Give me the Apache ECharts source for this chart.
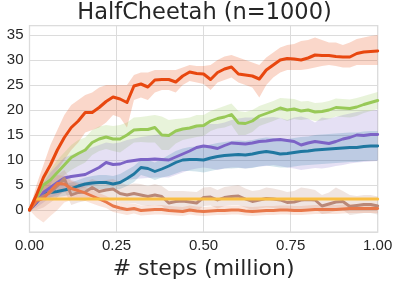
<!DOCTYPE html>
<html>
<head>
<meta charset="utf-8">
<script src="https://cdn.jsdelivr.net/npm/echarts@6/dist/echarts.min.js"></script>
<style>
html,body{margin:0;padding:0;background:#fff;}
#chart{width:399px;height:286px;}
</style>
</head>
<body>
<div id="chart"></div>
<script>
// x positions (million steps)
var xs = [0,0.02,0.04,0.06,0.08,0.10,0.12,0.14,0.16,0.18,0.20,0.22,0.24,0.26,0.28,0.30,0.32,0.34,0.36,0.38,0.40,0.42,0.44,0.46,0.48,0.50,0.52,0.54,0.56,0.58,0.60,0.62,0.64,0.66,0.68,0.70,0.72,0.74,0.76,0.78,0.80,0.82,0.84,0.86,0.88,0.90,0.92,0.94,0.96,0.98,1.00];
var xTicks = [0, 0.25, 0.5, 0.75, 1.0];
var yTicks = [0, 5, 10, 15, 20, 25, 30, 35];

// red series
var redMean = [0,3,6.5,9,12,14.5,16.5,17.8,19.5,19.5,20.5,21.7,22.6,22.2,21.5,24.8,25.2,24.6,26,26.1,26.1,25.6,26.8,27.6,27.3,27.2,26.1,27.5,28.2,28.6,27.2,27,26.8,26.2,28,29,30,30.3,30.2,30,30.4,31,30.9,30.9,30.7,30.6,30.6,31.3,31.6,31.7,31.8];
var redHi = [0,5,9,13,16,19,21,22,23,23.5,24.5,25,25,25,25,27,27.5,27.5,28,28,28,28,28.5,29,28.8,28.8,29,30,30.7,31,30.5,30,29.5,29,30.5,31.5,32.5,33,33.2,33.8,34,34.5,34,33.5,33.5,33,33.5,34.2,34.5,34.8,35];
var redLo = [0,1,3,5,8,10,12,13.5,15.5,16,16.5,17.5,19,18.5,16.5,22,22.5,22,23.5,24,24,23.5,25,25.8,25.5,25.2,24,25.5,26,26.5,25.5,25,24.5,22.5,25,26.5,27.5,28,28,28,28.2,28.5,28.8,29,28.8,28.5,28.5,29,29,29,29];

// green series
var greenMean = [0,2.5,5,6,7.5,9,10.5,11.3,12,13.5,14.2,14.6,14.2,14.2,15,16,16.1,16.1,16.5,15,14.9,15.8,16.2,16.4,16.8,16.9,17.8,18.3,18.6,19.1,17.4,17.3,17.8,18.8,19.3,19.8,20.4,20,20.2,19.8,20,19.6,19.7,20,20.5,20.4,20.3,20.6,21.1,21.5,21.9];
var greenHi = [0,3.5,6.5,8,10,11.5,13,14,14.5,16,16.7,17,16.8,17,17.5,18.5,18.6,18.8,19,18.7,18,18.2,18.3,18.5,19,19,19.8,20.3,20.8,21.3,19.8,19.6,20,20.8,21.3,21.8,22.4,22.3,22.2,21.7,21.8,21.4,21.5,21.8,22.3,22.2,22.1,22.4,22.8,23.2,23.6];
var greenLo = [0,1.5,3.5,4,5.5,7,8,8.8,9.5,11,11.8,12.2,11.8,11.5,12.5,13.5,13.6,13.5,13.5,12,12,13.3,14,14.3,14.6,14.8,15.8,16.3,16.5,17,15,15,15.6,16.8,17.3,17.8,18.4,17.8,18.2,18,18.2,17.8,17.9,18.2,18.7,18.6,18.5,18.8,19.4,19.8,20.2];

// purple series
var purpleMean = [0,1.5,3.5,4.5,5.5,6.4,6.7,6.9,7.1,7.8,8.5,9.5,9.1,9.2,9.7,9.9,10.1,10.1,10.2,10.1,10,10.6,11.2,11.8,12.5,12.8,12.6,12.3,12.9,13.4,13.3,13.2,13.4,13.7,13.8,14,14.1,13.9,13.7,13,13.4,13.7,13.5,13.3,13.7,14.2,14.5,15,14.9,15.1,15.1];
var purpleHi = [0,2.5,5.5,7.5,9,10.5,11,11.5,12,12.5,13,13.5,13.3,13.5,14,14.3,14.6,14.8,15,15.2,15.2,15.5,16,16.5,16.8,17,17.2,17.2,17.5,18,18.3,18.5,18.5,18.3,18.5,18.6,18.4,18,18.5,18.7,18.3,17.5,18.5,18.3,18.6,19,19.3,19.6,19.8,19.8,20];
var purpleLo = [0,0.5,1.5,2.5,3,3.5,4,4.2,4.5,5,5.5,5.8,5.6,5.8,6,6.2,6.3,6.4,6.5,6.5,6.5,7,7.5,8,8.3,8.5,8.3,8,8.3,8.5,8.5,8.3,8.5,8.7,8.8,9,8.8,8.5,8.3,8,8.2,8.4,8.3,8.5,8.8,9,9.3,9.5,9.6,9.7,9.8];

// blue series
var blueMean = [0,1.5,3.2,3.5,3.7,4,4.3,4.8,5.2,5.4,5.5,5.5,5.2,5.5,6.3,7.2,8.5,8.3,7.7,8.2,8.8,9.5,10,10.1,10.1,10,10.4,10.7,10.9,11,11.1,11,11.2,11.5,11.7,11.5,11.2,11.3,11.5,11.7,11.8,12,12.1,12.2,12.3,12.4,12.5,12.5,12.7,12.8,12.8];
var blueHi = [0,2,4,4.5,4.8,5.2,5.5,6,6.5,6.8,7,7,6.8,7.2,8,8.8,10,10,9.5,10.2,11,11.8,12.3,12.6,12.7,12.7,13.1,13.4,13.6,13.8,13.9,13.8,14,14.3,14.5,14.4,14.1,14.2,14.4,14.6,14.7,15,15.1,15.2,15.3,15.4,15.5,15.5,15.7,15.8,15.8];
var blueLo = [0,1,2.4,2.5,2.6,2.8,3.1,3.6,4,4.1,4.2,4.2,4,4.2,4.8,5.6,7,6.6,6,6.5,6.8,7.3,7.8,7.8,7.7,7.5,7.8,8.1,8.3,8.3,8.4,8.3,8.4,8.7,8.9,8.7,8.5,8.5,8.7,8.9,9,9.1,9.2,9.3,9.4,9.5,9.6,9.6,9.8,9.9,9.9];

// brown series
var brownMean = [0,2,2.8,3.5,4.8,6.3,3,3.5,3.6,4.5,3.7,4,4.2,3.3,3,3.3,3,2.7,3,2.7,1.4,1.7,1.8,1.6,1.4,2.5,2.6,2,2.5,2.7,2.8,2.2,1.7,2,2.3,2.2,2,1.5,1.6,2,2.1,2,0.8,1.2,1.6,1.7,0.7,0.9,1.1,1.1,0.8];
var brownHi = [0,4,5,5.5,7,8,6,5.5,5.5,6.2,5.7,6,6.2,5.5,5,5.3,5.2,4.8,5.2,4.8,3.8,3.8,3.8,3.7,3.6,4.5,4.6,4,4.6,4.8,5,4.3,3.8,4,4.5,4.3,4,3.6,3.8,4.5,4.3,4,3,3.5,4.5,3.8,3,2.8,3,3,2.7];
var brownLo = [0,0,0.5,1.5,2.5,4,1,1.5,1.8,2.7,2,2.2,2.3,1.5,1.2,1.4,1,0.8,1,0.8,-0.3,0,0,-0.2,-0.3,0.8,0.9,0.3,0.8,1,1,0.5,0,0.3,0.5,0.4,0.2,-0.2,-0.1,0.2,0.3,0.2,-0.8,-0.6,-0.2,0,-1,-0.8,-0.6,-0.6,-0.9];

// orange series
var orangeMean = [0,1.8,2.3,3.8,5.3,5.2,4.3,3.9,3.4,2.8,2.2,1.6,0.8,0.4,0.1,0.3,-0.1,0,0.1,0.1,-0.1,-0.2,-0.3,0,-0.2,-0.3,-0.2,-0.1,-0.1,0,0,-0.2,-0.3,-0.2,-0.1,-0.1,0,0,-0.1,-0.1,0,0.1,0.1,0.1,0.1,0.2,0.3,0.3,0.3,0.3,0.3];
var orangeHi = [0,3.5,5,6,7,6.8,5.8,5.2,4.6,4,3.4,2.8,2,1.5,1.2,1.3,0.9,0.9,1,1,0.8,0.7,0.6,0.9,0.7,0.6,0.7,0.8,0.8,0.9,0.9,0.7,0.6,0.7,0.8,0.8,0.9,0.9,0.8,0.8,0.9,1,1,1,1,1.1,1.2,1.2,1.2,1.2,1.2];
var orangeLo = [0,-1.5,-2.5,-1.2,0,1.5,2,2,1.8,1.3,0.8,0.4,-0.4,-0.7,-1,-0.7,-1.1,-1,-0.9,-0.9,-1,-1.1,-1.2,-0.9,-1.1,-1.2,-1.1,-1,-1,-0.9,-0.9,-1.1,-1.2,-1.1,-1,-1,-0.9,-0.9,-1,-1,-0.9,-0.8,-0.8,-0.8,-0.8,-0.7,-0.6,-0.6,-0.6,-0.6,-0.6];

// yellow (constant baseline)
var yellowX = [0.02, 1.0];
var yellowY = [2.2, 2.2];

var FONT = "'Liberation Sans', Arial, Helvetica, sans-serif";
var BIG = "'DejaVu Sans', sans-serif";
var TXT = '#262626';

function pairs(x, y) { return x.map(function (v, i) { return [v, y[i]]; }); }

function band(name, hi, lo, color) {
  return {
    type: 'custom', name: name + ' band', silent: true, clip: true, z: 1,
    data: [[0, 0]],
    encode: { x: 0, y: 1 },
    renderItem: function (params, api) {
      var pts = [];
      for (var i = 0; i < xs.length; i++) pts.push(api.coord([xs[i], hi[i]]));
      for (var j = xs.length - 1; j >= 0; j--) pts.push(api.coord([xs[j], lo[j]]));
      return { type: 'polygon', shape: { points: pts }, style: { fill: color } };
    }
  };
}

function line(name, x, y, color, z, w) {
  return {
    type: 'line', name: name, data: pairs(x, y), showSymbol: false, symbol: 'none',
    silent: true, animation: false, z: z,
    lineStyle: { color: color, width: w || 2.9, join: 'round', cap: 'round' }
  };
}

var C = {
  red: '#e8470f', green: '#98c957', purple: '#7c63c6', blue: '#1f77a0',
  brown: '#b98878', orange: '#e8784a', yellow: '#f9bf45'
};

var chart = echarts.init(document.getElementById('chart'), null, { renderer: 'canvas' });
chart.setOption({
  animation: false,
  backgroundColor: '#ffffff',
  title: {
    text: 'HalfCheetah (n=1000)', left: 204.5, top: 1.5, textAlign: 'center', padding: 0,
    textStyle: { fontFamily: BIG, fontSize: 22.5, fontWeight: 'normal', color: TXT }
  },
  grid: {
    left: 29.5, right: 21.3, top: 25.5, bottom: 54,
    show: true, borderColor: '#d6d6d6', borderWidth: 1.25, backgroundColor: '#ffffff'
  },
  xAxis: {
    type: 'value', min: xTicks[0], max: xTicks[xTicks.length - 1], interval: 0.25,
    name: '# steps (million)', nameLocation: 'middle', nameGap: 23,
    nameTextStyle: { fontFamily: BIG, fontSize: 22, color: TXT },
    axisLine: { show: false }, axisTick: { show: false },
    axisLabel: { fontFamily: FONT, fontSize: 15, color: TXT, margin: 6,
      formatter: function (v) { return v.toFixed(2); } },
    splitLine: { show: true, lineStyle: { color: '#dcdcdc', width: 1 } }
  },
  yAxis: {
    type: 'value', min: -4.4, max: 36.9, splitNumber: 8,
    axisLine: { show: false }, axisTick: { show: false },
    axisLabel: { fontFamily: FONT, fontSize: 15, color: TXT, margin: 6,
      formatter: function (v) {
        for (var i = 0; i < yTicks.length; i++) if (Math.abs(v - yTicks[i]) < 1e-6) return String(yTicks[i]);
        return '';
      } },
    splitLine: { show: true, lineStyle: { color: '#dcdcdc', width: 1 } }
  },
  series: [
    band('red', redHi, redLo, 'rgba(232,71,15,0.22)'),
    band('green', greenHi, greenLo, 'rgba(152,201,87,0.22)'),
    band('purple', purpleHi, purpleLo, 'rgba(124,99,198,0.2)'),
    band('blue', blueHi, blueLo, 'rgba(31,119,160,0.2)'),
    band('brown', brownHi, brownLo, 'rgba(185,136,120,0.22)'),
    band('orange', orangeHi, orangeLo, 'rgba(232,120,74,0.2)'),
    line('blue', xs, blueMean, C.blue, 3),
    line('purple', xs, purpleMean, C.purple, 4),
    line('green', xs, greenMean, C.green, 5),
    line('brown', xs, brownMean, C.brown, 6),
    line('orange', xs, orangeMean, C.orange, 7),
    line('yellow', yellowX, yellowY, C.yellow, 8, 3),
    line('red', xs, redMean, C.red, 9, 3)
  ]
});
</script>
</body>
</html>
